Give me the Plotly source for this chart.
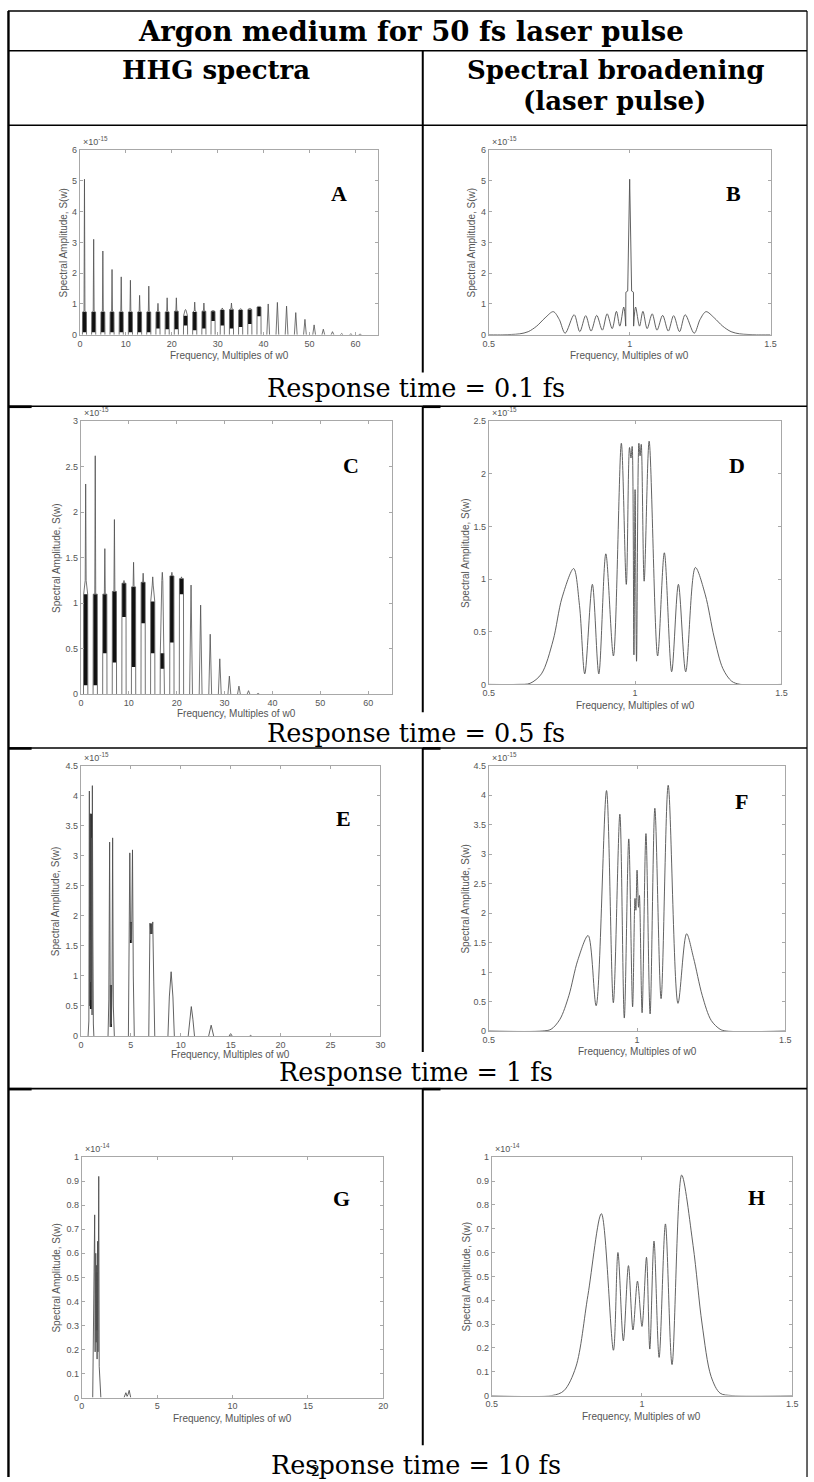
import plotly.graph_objects as go

# ---------------------------------------------------------------------------
# Data (amplitudes in units of the axis exponent)
# ---------------------------------------------------------------------------
# Panel A : HHG spectrum, response time 0.1 fs  (x 1e-15)
A_order = [1, 3, 5, 7, 9, 11, 13, 15, 17, 19, 21, 23, 25, 27, 29, 31, 33, 35, 37, 39,
           41, 43, 45, 47, 49, 51, 53, 55, 57, 59, 61]
A_peak = [5.05, 3.10, 2.72, 2.12, 1.88, 1.77, 1.28, 1.58, 1.02, 1.20, 1.20, 0.82, 1.06, 1.03,
          0.80, 0.87, 1.03, 0.85, 0.87, 0.93, 1.00, 1.05, 0.93, 0.72, 0.50, 0.32, 0.18, 0.10,
          0.04, 0.03, 0.02]
A_shoulder = [0.75, 0.75, 0.75, 0.75, 0.75, 0.75, 0.75, 0.75, 0.75, 0.75, 0.78, 0.80, 0.77,
              0.78, 0.78, 0.82, 0.85, 0.82, 0.85, 0.92, 0, 0, 0, 0, 0, 0, 0, 0, 0, 0, 0]
A_band_lo = [0.08, 0.08, 0.08, 0.08, 0.08, 0.08, 0.08, 0.08, 0.20, 0.18, 0.18, 0.30, 0.15,
             0.20, 0.45, 0.30, 0.20, 0.25, 0.35, 0.60, 0, 0, 0, 0, 0, 0, 0, 0, 0, 0, 0]
A_band_hi = [0.74, 0.74, 0.74, 0.74, 0.74, 0.74, 0.74, 0.74, 0.74, 0.74, 0.76, 0.62, 0.74,
             0.76, 0.76, 0.80, 0.82, 0.80, 0.82, 0.90, 0, 0, 0, 0, 0, 0, 0, 0, 0, 0, 0]

# Panel B : spectral broadening, 0.1 fs (x 1e-15)
B_left_x = [0.50, 0.55, 0.58, 0.61, 0.64, 0.67, 0.70, 0.729, 0.75, 0.771, 0.803, 0.823, 0.844,
            0.863, 0.883, 0.903, 0.920, 0.938, 0.953, 0.965, 0.979, 0.986]
B_left_y = [0.00, 0.00, 0.01, 0.03, 0.10, 0.28, 0.55, 0.75, 0.50, 0.05, 0.65, 0.10, 0.62,
            0.12, 0.63, 0.15, 0.68, 0.20, 0.76, 0.28, 0.90, 0.28]
B_mid_x = [0.986, 0.9865, 0.993, 1.000, 1.007, 1.0135, 1.014]
B_mid_y = [0.28, 1.38, 1.42, 5.05, 1.42, 1.38, 0.28]
B_right_x = [1.014, 1.021, 1.035, 1.047, 1.062, 1.080, 1.097, 1.117, 1.137, 1.156, 1.177,
             1.197, 1.229, 1.25, 1.271, 1.30, 1.33, 1.36, 1.39, 1.42, 1.45, 1.50]
B_right_y = [0.28, 0.90, 0.28, 0.76, 0.20, 0.68, 0.15, 0.63, 0.12, 0.62, 0.10,
             0.65, 0.05, 0.50, 0.75, 0.55, 0.28, 0.10, 0.03, 0.01, 0.00, 0.00]

# Panel C : HHG spectrum, response time 0.5 fs (x 1e-15)
C_order = [1, 3, 5, 7, 9, 11, 13, 15, 17, 19, 21, 23, 25, 27, 29, 31, 33, 35, 37]
C_peak = [2.31, 2.62, 1.60, 1.92, 1.25, 1.45, 1.33, 1.29, 1.34, 1.34, 1.29, 1.20, 0.98, 0.66,
          0.39, 0.20, 0.09, 0.04, 0.01]
C_shoulder = [1.25, 1.10, 1.10, 1.13, 1.22, 1.18, 1.23, 1.20, 1.25, 1.30, 1.27,
              0, 0, 0, 0, 0, 0, 0, 0]
C_band_lo = [0.10, 0.10, 0.45, 0.35, 0.85, 0.30, 0.78, 0.45, 0.28, 0.57, 1.10,
             0, 0, 0, 0, 0, 0, 0, 0]
C_band_hi = [1.10, 1.10, 1.10, 1.13, 1.22, 1.18, 1.23, 1.02, 0.45, 1.30, 1.27,
             0, 0, 0, 0, 0, 0, 0, 0]

# Panel D : spectral broadening, 0.5 fs (x 1e-15)
D_x = [0.50, 0.60, 0.641, 0.68, 0.72, 0.75, 0.79, 0.81, 0.828, 0.854, 0.876, 0.900, 0.926,
       0.953, 0.970, 0.981, 0.986, 0.990, 0.996, 1.000, 1.005, 1.013, 1.017, 1.021, 1.031,
       1.048, 1.077, 1.100, 1.125, 1.148, 1.173, 1.206, 1.24, 1.27, 1.30, 1.33, 1.36, 1.50]
D_y = [0.00, 0.00, 0.01, 0.10, 0.42, 0.82, 1.10, 0.75, 0.10, 0.95, 0.10, 1.24, 0.27,
       2.29, 0.95, 2.25, 2.15, 2.26, 0.28, 1.85, 0.22, 2.29, 2.17, 2.28, 0.98,
       2.31, 0.27, 1.25, 0.12, 0.95, 0.12, 1.11, 0.85, 0.45, 0.15, 0.03, 0.00, 0.00]

# Panel E : HHG spectrum, response time 1 fs (x 1e-15)
E_x = [0.72, 0.80, 0.85, 0.88, 0.92, 0.96, 1.00, 1.04, 1.08, 1.12, 1.15, 1.20, 1.25, 1.30, None,
       2.72, 2.80, 2.88, 2.95, 3.00, 3.05, 3.12, 3.18, 3.25, 3.35, None,
       4.76, 4.84, 4.90, 4.98, 5.03, 5.08, 5.17, 5.25, 5.35, None,
       6.80, 6.86, 6.92, 7.00, 7.06, 7.12, 7.20, 7.30, 7.40, None,
       8.72, 8.86, 9.04, 9.22, 9.36, None,
       10.75, 10.90, 11.06, 11.22, 11.38, None,
       12.80, 13.05, 13.30, None, 14.85, 15.00, 15.15, None, 16.90, 17.00, 17.10]
E_y = [0.00, 0.25, 4.08, 0.50, 3.70, 0.90, 1.60, 0.60, 3.30, 0.35, 4.17, 1.65, 0.20, 0.00, None,
       0.00, 0.60, 3.23, 0.15, 0.85, 0.20, 0.80, 3.30, 0.50, 0.00, None,
       0.00, 1.55, 3.05, 1.60, 1.88, 1.55, 3.10, 1.00, 0.00, None,
       0.00, 1.70, 1.88, 1.70, 1.87, 1.70, 1.90, 0.90, 0.00, None,
       0.00, 0.65, 1.07, 0.65, 0.00, None,
       0.00, 0.28, 0.49, 0.28, 0.00, None,
       0.00, 0.18, 0.00, None, 0.00, 0.04, 0.00, None, 0.00, 0.01, 0.00]
E_band_x = [1.02, 3.02, 5.03, 7.06]
E_band_lo = [0.45, 0.15, 1.55, 1.70]
E_band_hi = [3.70, 0.85, 1.90, 1.87]

# Panel F : spectral broadening, 1 fs (x 1e-15)
F_x = [0.50, 0.68, 0.71, 0.74, 0.77, 0.80, 0.835, 0.862, 0.897, 0.920, 0.942, 0.957, 0.972,
       0.985, 0.993, 0.996, 1.000, 1.005, 1.008, 1.017, 1.030, 1.044, 1.060, 1.081, 1.105,
       1.138, 1.167, 1.19, 1.22, 1.25, 1.28, 1.30, 1.50]
F_y = [0.00, 0.00, 0.03, 0.20, 0.60, 1.20, 1.62, 0.43, 4.08, 0.48, 3.68, 0.22, 3.26,
       0.41, 2.25, 2.05, 2.73, 2.10, 2.30, 0.31, 3.35, 0.29, 3.78, 0.55, 4.17,
       0.47, 1.65, 1.25, 0.60, 0.18, 0.03, 0.00, 0.00]

# Panel G : HHG spectrum, response time 10 fs (x 1e-14)
G_x = [0.72, 0.85, 0.88, 0.92, 0.95, 0.98, 1.01, 1.04, 1.07, 1.10, 1.12, 1.15, 1.20, 1.26, None,
       2.80, 2.92, 3.00, 3.06, 3.14, 3.24]
G_y = [0.00, 0.76, 0.19, 0.60, 0.23, 0.55, 0.16, 0.65, 0.19, 0.72, 0.92, 0.13, 0.05, 0.00, None,
       0.00, 0.020, 0.005, 0.012, 0.030, 0.00]
G_band_x = [0.99]
G_band_lo = [0.28]
G_band_hi = [0.52]

# Panel H : spectral broadening, 10 fs (x 1e-14)
H_x = [0.50, 0.70, 0.74, 0.78, 0.82, 0.865, 0.905, 0.920, 0.938, 0.955, 0.970, 0.985, 1.000,
       1.015, 1.026, 1.040, 1.057, 1.078, 1.100, 1.132, 1.17, 1.20, 1.23, 1.26, 1.30, 1.50]
H_y = [0.000, 0.000, 0.020, 0.120, 0.420, 0.763, 0.190, 0.600, 0.230, 0.545, 0.275, 0.480,
       0.290, 0.580, 0.195, 0.648, 0.160, 0.720, 0.130, 0.925, 0.630, 0.300, 0.080, 0.010,
       0.000, 0.000]

# Tick values
X_TICKS_65 = [0, 10, 20, 30, 40, 50, 60]
X_TICKS_30 = [0, 5, 10, 15, 20, 25, 30]
X_TICKS_20 = [0, 5, 10, 15, 20]
X_TICKS_SB = [0.5, 1, 1.5]
Y_TICKS_6 = [0, 1, 2, 3, 4, 5, 6]
Y_TICKS_3 = [0, 0.5, 1, 1.5, 2, 2.5, 3]
Y_TICKS_25 = [0, 0.5, 1, 1.5, 2, 2.5]
Y_TICKS_45 = [0, 0.5, 1, 1.5, 2, 2.5, 3, 3.5, 4, 4.5]
Y_TICKS_1 = [0, 0.1, 0.2, 0.3, 0.4, 0.5, 0.6, 0.7, 0.8, 0.9, 1]

TITLE = "Argon medium for 50 fs laser pulse"
HEAD_LEFT = "HHG spectra"
HEAD_RIGHT_1 = "Spectral broadening"
HEAD_RIGHT_2 = "(laser pulse)"
RESPONSE = ["Response time = 0.1 fs", "Response time = 0.5 fs",
            "Response time = 1 fs", "Response time = 10 fs"]
X_LABEL = "Frequency, Multiples of w0"
Y_LABEL = "Spectral Amplitude, S(w)"

# ---------------------------------------------------------------------------
# Layout helpers (page pixel -> paper)
# ---------------------------------------------------------------------------
W, H = 814, 1482


def fx(x):
    return x / W


def fy(y):
    return 1 - y / H


panels = [
    dict(letter="A", box=(75, 378, 146, 332), xr=[0, 65], xt=X_TICKS_65, yr=[0, 6], yt=Y_TICKS_6,
         exp="-15", lpos=(338, 190), yoff=17, xl=21),
    dict(letter="B", box=(490, 776, 146, 332), xr=[0.5, 1.5], xt=X_TICKS_SB, yr=[0, 6], yt=Y_TICKS_6,
         exp="-15", lpos=(738, 190), yoff=18, xl=21),
    dict(letter="C", box=(76, 392, 419, 694), xr=[0, 65], xt=X_TICKS_65, yr=[0, 3], yt=Y_TICKS_3,
         exp="-15", lpos=(350, 464), yoff=24, xl=19),
    dict(letter="D", box=(490, 787, 419, 684), xr=[0.5, 1.5], xt=X_TICKS_SB, yr=[0, 2.5], yt=Y_TICKS_25,
         exp="-15", lpos=(742, 464), yoff=23, xl=21),
    dict(letter="E", box=(76, 380, 766, 1038), xr=[0, 30], xt=X_TICKS_30, yr=[0, 4.5], yt=Y_TICKS_45,
         exp="-15", lpos=(343, 819), yoff=25, xl=19),
    dict(letter="F", box=(490, 791, 766, 1033), xr=[0.5, 1.5], xt=X_TICKS_SB, yr=[0, 4.5], yt=Y_TICKS_45,
         exp="-15", lpos=(746, 802), yoff=24, xl=21),
    dict(letter="G", box=(77, 383, 1160, 1402), xr=[0, 20], xt=X_TICKS_20, yr=[0, 1], yt=Y_TICKS_1,
         exp="-14", lpos=(341, 1202), yoff=26, xl=21),
    dict(letter="H", box=(493, 798, 1160, 1400), xr=[0.5, 1.5], xt=X_TICKS_SB, yr=[0, 1], yt=Y_TICKS_1,
         exp="-14", lpos=(762, 1201), yoff=26, xl=21),
]

LINE_C = "#505050"
BAND_C = "#111111"

fig = go.Figure()


def axes_ids(i):
    k = "" if i == 0 else str(i + 1)
    return "x" + k, "y" + k


def add_harmonics(i, orders, peaks, shoulders, lo, hi):
    xa, ya = axes_ids(i)
    xs, ys = [], []
    for q, p, s, h in zip(orders, peaks, shoulders, hi):
        if s > 0:
            xs += [q - 0.45, q - 0.42, q - 0.10, q, q + 0.10, q + 0.42, q + 0.45, None]
            ys += [0, h, s, p, s, h, 0, None]
        else:
            xs += [q - 0.3, q, q + 0.3, None]
            ys += [0, p, 0, None]
    bx = [q for q, h in zip(orders, hi) if h > 0]
    bl = [l for l, h in zip(lo, hi) if h > 0]
    bh = [h - l for l, h in zip(lo, hi) if h > 0]
    fig.add_trace(go.Bar(x=bx, y=bh, base=bl, width=0.8, marker_color=BAND_C,
                         marker_line_width=0, xaxis=xa, yaxis=ya, hoverinfo="skip"))
    fig.add_trace(go.Scatter(x=xs, y=ys, mode="lines", line=dict(color=LINE_C, width=0.8),
                             xaxis=xa, yaxis=ya, hoverinfo="skip"))


def add_bands(i, bx, lo, hi, width):
    xa, ya = axes_ids(i)
    fig.add_trace(go.Bar(x=bx, y=[h - l for l, h in zip(lo, hi)], base=lo, width=width,
                         marker_color=BAND_C, marker_line_width=0, xaxis=xa, yaxis=ya,
                         hoverinfo="skip"))


def add_line(i, x, y, shape="linear"):
    xa, ya = axes_ids(i)
    line = dict(color=LINE_C, width=0.9, shape=shape)
    if shape == "spline":
        line["smoothing"] = 0.9
    fig.add_trace(go.Scatter(x=x, y=y, mode="lines", line=line,
                             xaxis=xa, yaxis=ya, hoverinfo="skip"))


# A
add_harmonics(0, A_order, A_peak, A_shoulder, A_band_lo, A_band_hi)
# B
add_line(1, B_left_x, B_left_y, "spline")
add_line(1, B_mid_x, B_mid_y)
add_line(1, B_right_x, B_right_y, "spline")
# C
add_harmonics(2, C_order, C_peak, C_shoulder, C_band_lo, C_band_hi)
# D
add_line(3, D_x, D_y, "spline")
# E
add_bands(4, E_band_x, E_band_lo, E_band_hi, 0.15)
add_line(4, E_x, E_y)
# F
add_line(5, F_x, F_y, "spline")
# G
add_bands(6, G_band_x, G_band_lo, G_band_hi, 0.14)
add_line(6, G_x, G_y)
# H
add_line(7, H_x, H_y, "spline")

axis_style = dict(showline=True, linecolor="#a8a8a8", linewidth=1, mirror="ticks",
                  ticks="inside", ticklen=3, tickwidth=1, tickcolor="#a8a8a8",
                  showgrid=False, zeroline=False,
                  tickfont=dict(family="Liberation Sans, Arial", size=9, color="#555555"))

layout = dict(width=W, height=H, margin=dict(l=0, r=0, t=0, b=0),
              paper_bgcolor="white", plot_bgcolor="white", showlegend=False,
              barmode="overlay")

annotations = []
shapes = []
small = dict(family="Liberation Sans, Arial", size=10, color="#555555")

for i, p in enumerate(panels):
    k = "" if i == 0 else str(i + 1)
    L, R, T, B = p["box"]
    layout["xaxis" + k] = dict(domain=[fx(L), fx(R)], range=p["xr"], tickvals=p["xt"],
                               anchor="y" + k, **axis_style)
    layout["yaxis" + k] = dict(domain=[fy(B), fy(T)], range=p["yr"], tickvals=p["yt"],
                               anchor="x" + k, **axis_style)
    annotations.append(dict(text=X_LABEL, x=fx((L + R) / 2), y=fy(B + p["xl"]), xref="paper",
                            yref="paper", showarrow=False, font=small,
                            xanchor="center", yanchor="middle"))
    annotations.append(dict(text=Y_LABEL, x=fx(L - p["yoff"]), y=fy((T + B) / 2), xref="paper",
                            yref="paper", showarrow=False, font=small, textangle=-90,
                            xanchor="center", yanchor="middle"))
    annotations.append(dict(text="\u00d710<sup>" + p["exp"] + "</sup>", x=fx(L + 1), y=fy(T - 1),
                            xref="paper", yref="paper", showarrow=False,
                            font=dict(family="Liberation Sans, Arial", size=9, color="#555555"),
                            xanchor="left", yanchor="bottom"))
    annotations.append(dict(text="<b>" + p["letter"] + "</b>", x=fx(p["lpos"][0]),
                            y=fy(p["lpos"][1]), xref="paper", yref="paper", showarrow=False,
                            font=dict(family="Liberation Serif, Times New Roman", size=22,
                                      color="black"),
                            xanchor="center", yanchor="middle"))

serif = "DejaVu Serif"


def text(t, x, y, size, bold=False):
    annotations.append(dict(text=("<b>" + t + "</b>") if bold else t, x=fx(x), y=fy(y),
                            xref="paper", yref="paper", showarrow=False,
                            xanchor="center", yanchor="middle",
                            font=dict(family=serif, size=size, color="black")))


text(TITLE, 411, 26, 27.5, True)
text(HEAD_LEFT, 213, 65, 26, True)
text(HEAD_RIGHT_1, 619, 65, 26, True)
text(HEAD_RIGHT_2, 618, 97, 26, True)
for txt, yy in zip(RESPONSE, [386, 733, 1074, 1470]):
    text(txt, 416, yy, 25.5)
text("2", 314, 1476, 14)


def hline(y, x0, x1, w=1.6):
    shapes.append(dict(type="line", xref="paper", yref="paper", x0=fx(x0), x1=fx(x1),
                       y0=fy(y), y1=fy(y), line=dict(color="black", width=w)))


def vline(x, y0, y1, w=1.6):
    shapes.append(dict(type="line", xref="paper", yref="paper", x0=fx(x), x1=fx(x),
                       y0=fy(y0), y1=fy(y1), line=dict(color="black", width=w)))


hline(6, 2, 813)
hline(46, 2, 813)
hline(121, 2, 813)
for yy in [404, 748, 1091]:
    hline(yy, 2, 813)
    hline(yy + 0.5, 2, 26, 2.6)
    hline(yy + 0.5, 423, 441, 2.6)
vline(2.5, 6, 1482, 2.4)
vline(813, 6, 1482, 1.2)
vline(423, 46, 370, 2.0)
vline(423, 404, 712, 2.0)
vline(423, 748, 1054, 2.0)
vline(423, 1091, 1450, 2.0)

layout["annotations"] = annotations
layout["shapes"] = shapes
fig.update_layout(**layout)
fig.write_html("out.html", config={"displayModeBar": False},
               post_script="document.body.style.margin='0';document.body.style.overflow='hidden';")
